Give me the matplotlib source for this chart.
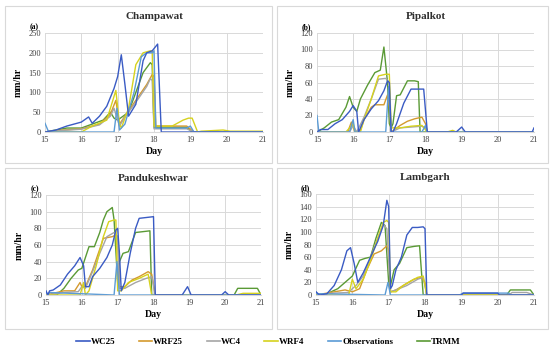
import matplotlib
matplotlib.use("Agg")
import matplotlib.pyplot as plt
from matplotlib.patches import Rectangle
from matplotlib.lines import Line2D

plt.rcParams['font.family'] = ['Liberation Serif', 'DejaVu Serif']

series_names = ["WC25", "WRF25", "WC4", "WRF4", "Observations", "TRMM"]
colors = {"WC25": "#3A5BC4", "WRF25": "#D49A2E", "WC4": "#A5A5A5",
          "WRF4": "#D6D21E", "Observations": "#5B9BD5", "TRMM": "#5A9A35"}

titles = ["Champawat", "Pipalkot", "Pandukeshwar", "Lambgarh"]
panel_tags = ["(a)", "(b)", "(c)", "(d)"]
y_max = [250, 120, 120, 160]
y_step = [50, 20, 20, 20]
x_ticks = [15, 16, 17, 18, 19, 20, 21]

# ---------- Champawat ----------
cha_wc25_x = [15, 15.3, 15.6, 15.8, 16.0, 16.2, 16.3, 16.5, 16.7, 16.9, 17.0, 17.1, 17.2, 17.3, 17.5, 17.7, 17.8, 17.95, 18.1, 18.2, 21]
cha_wc25_y = [0, 5, 15, 20, 25, 38, 22, 40, 65, 110, 140, 195, 120, 40, 70, 180, 200, 205, 222, 0, 0]
cha_wrf25_x = [15, 15.5, 16.0, 16.5, 16.8, 16.95, 17.05, 17.2, 17.5, 17.8, 17.95, 18.0, 18.05, 18.9, 19.1, 21]
cha_wrf25_y = [0, 5, 8, 20, 45, 80, 20, 40, 80, 120, 145, 140, 15, 15, 0, 0]
cha_wc4_x = [15, 15.5, 16.0, 16.5, 16.8, 16.9, 17.05, 17.2, 17.5, 17.8, 17.9, 17.95, 18.0, 18.9, 19.1, 21]
cha_wc4_y = [0, 4, 7, 18, 40, 60, 15, 38, 75, 115, 135, 130, 8, 8, 0, 0]
cha_wrf4_x = [15, 16.0, 16.3, 16.7, 16.9, 16.95, 17.05, 17.1, 17.3, 17.5, 17.7, 17.9, 17.95, 18.0, 18.5, 18.8, 18.95, 19.05, 19.2, 19.3, 19.9, 20.1, 20.4, 21]
cha_wrf4_y = [0, 0, 15, 30, 90, 105, 20, 10, 60, 170, 200, 205, 205, 15, 15, 30, 35, 35, 0, 2, 5, 2, 2, 2]
cha_obs_x = [15, 15.1, 16.9, 16.98, 17.05, 17.2, 17.45, 17.65, 17.8, 17.95, 18.0, 18.05, 18.9, 19.0, 19.1, 21]
cha_obs_y = [22, 0, 0, 60, 5, 20, 100, 190, 200, 200, 205, 10, 10, 15, 0, 0]
cha_trmm_x = [15, 15.3, 15.6, 16.0, 16.3, 16.6, 16.8, 16.9, 17.0, 17.3, 17.5, 17.7, 17.9, 17.95, 18.0, 18.9, 19.05, 21]
cha_trmm_y = [0, 5, 10, 10, 20, 30, 50, 35, 30, 50, 100, 150, 175, 170, 12, 12, 0, 0]

# ---------- Pipalkot ----------
pip_wc25_x = [15, 15.1, 15.3, 15.5, 15.7, 15.9, 16.0, 16.1, 16.15, 16.3, 16.5, 16.7, 16.85, 16.95, 17.0, 17.05, 17.1, 17.2, 17.4, 17.6, 17.8, 17.95, 18.05, 18.85, 19.0, 19.1, 20.95, 21]
pip_wc25_y = [0, 3, 3, 10, 15, 25, 32, 25, 0, 15, 28, 38, 50, 62, 60, 0, 0, 10, 35, 52, 52, 52, 0, 0, 6, 0, 0, 5]
pip_wrf25_x = [15, 15.85, 15.95, 16.05, 16.2, 16.3, 16.5, 16.6, 16.85, 16.95, 17.0, 17.05, 17.3, 17.5, 17.7, 17.9, 18.0, 18.05, 21]
pip_wrf25_y = [0, 0, 12, 0, 2, 15, 30, 33, 33, 45, 30, 0, 8, 13, 16, 18, 10, 0, 0]
pip_wc4_x = [15, 15.9, 16.0, 16.1, 16.3, 16.5, 16.7, 16.9, 17.0, 17.05, 17.3, 17.6, 17.9, 18.0, 18.05, 21]
pip_wc4_y = [0, 0, 8, 0, 18, 40, 64, 65, 60, 0, 5, 6, 7, 5, 0, 0]
pip_wrf4_x = [15, 15.8, 16.0, 16.05, 16.2, 16.3, 16.5, 16.7, 16.9, 17.0, 17.05, 17.3, 17.6, 17.9, 18.05, 18.6, 18.75, 18.85, 21]
pip_wrf4_y = [0, 0, 10, 0, 0, 15, 40, 68, 70, 70, 5, 5, 7, 8, 0, 0, 2, 0, 0]
pip_obs_x = [15, 15.05, 15.9, 16.0, 16.05, 16.9, 16.98, 17.05, 17.9, 18.0, 18.05, 21]
pip_obs_y = [20, 0, 0, 15, 0, 0, 55, 0, 0, 8, 0, 0]
pip_trmm_x = [15, 15.2, 15.4, 15.6, 15.8, 15.9, 16.0, 16.1, 16.2, 16.4, 16.6, 16.75, 16.85, 16.95, 17.0, 17.05, 17.1, 17.2, 17.3, 17.5, 17.7, 17.8, 17.85, 21]
pip_trmm_y = [0, 5, 12, 15, 30, 43, 30, 25, 40, 57, 72, 75, 103, 60, 10, 5, 10, 44, 45, 62, 62, 61, 0, 0]

# ---------- Pandukeshwar ----------
pan_wc25_x = [15, 15.05, 15.1, 15.2, 15.4, 15.6, 15.8, 15.95, 16.05, 16.1, 16.2, 16.3, 16.5, 16.7, 16.85, 16.95, 17.0, 17.05, 17.1, 17.2, 17.35, 17.5, 17.6, 17.8, 18.0, 18.05, 18.8, 18.95, 19.05, 19.9, 20.0, 20.1, 21]
pan_wc25_y = [5, 0, 5, 6, 12, 25, 35, 45, 35, 10, 10, 22, 32, 45, 60, 78, 80, 50, 5, 15, 50, 80, 92, 93, 94, 0, 0, 10, 0, 0, 4, 0, 0]
pan_wrf25_x = [15, 15.5, 15.8, 15.95, 16.0, 16.1, 16.3, 16.5, 16.6, 16.85, 16.95, 17.0, 17.05, 17.2, 17.4, 17.6, 17.85, 17.95, 18.05, 21]
pan_wrf25_y = [0, 5, 5, 15, 10, 10, 30, 55, 68, 70, 72, 70, 10, 10, 18, 22, 28, 25, 0, 0]
pan_wc4_x = [15, 15.5, 15.9, 16.0, 16.1, 16.3, 16.5, 16.7, 16.9, 17.0, 17.05, 17.2, 17.5, 17.8, 17.95, 18.05, 21]
pan_wc4_y = [0, 3, 4, 10, 8, 28, 50, 70, 75, 70, 8, 8, 15, 20, 22, 0, 0]
pan_wrf4_x = [15, 15.95, 16.05, 16.1, 16.2, 16.4, 16.6, 16.75, 16.9, 16.95, 17.0, 17.1, 17.3, 17.6, 17.85, 17.95, 20.3, 20.5, 21]
pan_wrf4_y = [0, 0, 15, 0, 5, 35, 70, 88, 90, 90, 5, 5, 15, 20, 25, 0, 0, 2, 2]
pan_obs_x = [15, 15.05, 15.1, 16.9, 16.98, 17.05, 21]
pan_obs_y = [4, 0, 3, 0, 40, 0, 0]
pan_trmm_x = [15, 15.3, 15.5, 15.7, 15.9, 16.0, 16.1, 16.2, 16.35, 16.5, 16.6, 16.7, 16.85, 16.9, 17.0, 17.05, 17.15, 17.3, 17.5, 17.7, 17.9, 17.95, 20.25, 20.35, 20.9, 21]
pan_trmm_y = [0, 0, 8, 20, 30, 32, 45, 58, 58, 75, 90, 100, 105, 90, 15, 40, 50, 52, 75, 76, 77, 0, 0, 8, 8, 0]

# ---------- Lambgarh ----------
lam_wc25_x = [15, 15.1, 15.3, 15.5, 15.7, 15.85, 15.95, 16.05, 16.15, 16.3, 16.5, 16.7, 16.85, 16.95, 17.0, 17.05, 17.1, 17.2, 17.35, 17.5, 17.65, 17.8, 17.95, 18.0, 18.05, 19.0, 19.05, 20.0, 20.05, 21]
lam_wc25_y = [5, 0, 2, 15, 40, 70, 75, 50, 20, 35, 60, 85, 110, 150, 140, 10, 15, 40, 60, 95, 107, 107, 108, 105, 0, 0, 3, 3, 0, 0]
lam_wrf25_x = [15, 15.5, 15.8, 16.0, 16.2, 16.4, 16.6, 16.8, 16.95, 17.0, 17.05, 17.2, 17.4, 17.7, 17.9, 18.0, 18.05, 21]
lam_wrf25_y = [0, 5, 8, 5, 10, 40, 65, 70, 78, 70, 5, 8, 15, 25, 28, 20, 0, 0]
lam_wc4_x = [15, 15.5, 15.9, 16.0, 16.1, 16.3, 16.5, 16.7, 16.85, 16.95, 17.05, 17.2, 17.5, 17.8, 17.95, 18.05, 20.3, 20.4, 20.8, 21]
lam_wc4_y = [0, 3, 4, 10, 15, 30, 60, 90, 112, 105, 5, 8, 15, 25, 28, 0, 0, 4, 4, 0]
lam_wrf4_x = [15, 15.9, 16.0, 16.1, 16.3, 16.5, 16.7, 16.85, 16.95, 17.0, 17.05, 17.2, 17.4, 17.6, 17.8, 17.95, 18.05, 21]
lam_wrf4_y = [0, 0, 25, 10, 25, 55, 90, 115, 118, 115, 5, 5, 15, 22, 28, 30, 0, 0]
lam_obs_x = [15, 15.05, 15.1, 16.9, 16.98, 17.05, 18.95, 19.05, 20.3, 20.35, 21]
lam_obs_y = [5, 0, 2, 0, 20, 0, 0, 3, 3, 0, 0]
lam_trmm_x = [15, 15.3, 15.6, 15.8, 16.0, 16.2, 16.35, 16.5, 16.65, 16.8, 16.9, 17.0, 17.05, 17.15, 17.3, 17.5, 17.7, 17.85, 17.95, 20.25, 20.35, 20.9, 21]
lam_trmm_y = [0, 2, 10, 20, 30, 55, 58, 60, 90, 115, 110, 20, 15, 40, 50, 75, 77, 78, 0, 0, 8, 8, 0]

panels = [
    {"WC25": (cha_wc25_x, cha_wc25_y), "WRF25": (cha_wrf25_x, cha_wrf25_y), "WC4": (cha_wc4_x, cha_wc4_y),
     "WRF4": (cha_wrf4_x, cha_wrf4_y), "Observations": (cha_obs_x, cha_obs_y), "TRMM": (cha_trmm_x, cha_trmm_y)},
    {"WC25": (pip_wc25_x, pip_wc25_y), "WRF25": (pip_wrf25_x, pip_wrf25_y), "WC4": (pip_wc4_x, pip_wc4_y),
     "WRF4": (pip_wrf4_x, pip_wrf4_y), "Observations": (pip_obs_x, pip_obs_y), "TRMM": (pip_trmm_x, pip_trmm_y)},
    {"WC25": (pan_wc25_x, pan_wc25_y), "WRF25": (pan_wrf25_x, pan_wrf25_y), "WC4": (pan_wc4_x, pan_wc4_y),
     "WRF4": (pan_wrf4_x, pan_wrf4_y), "Observations": (pan_obs_x, pan_obs_y), "TRMM": (pan_trmm_x, pan_trmm_y)},
    {"WC25": (lam_wc25_x, lam_wc25_y), "WRF25": (lam_wrf25_x, lam_wrf25_y), "WC4": (lam_wc4_x, lam_wc4_y),
     "WRF4": (lam_wrf4_x, lam_wrf4_y), "Observations": (lam_obs_x, lam_obs_y), "TRMM": (lam_trmm_x, lam_trmm_y)},
]

W, H = 550, 349
fig = plt.figure(figsize=(W / 100, H / 100), dpi=100)
fig.patch.set_facecolor("white")

def fx(px):
    return px / W

def fy(py):
    return 1 - py / H

# panel boxes (pixel coords: x0, y0, x1, y1)
boxes = [(5, 6, 272, 163), (277, 6, 548, 163), (5, 168, 272, 329), (277, 168, 548, 329)]
for (x0, y0, x1, y1) in boxes:
    fig.add_artist(Rectangle((fx(x0), fy(y1)), fx(x1 - x0), (y1 - y0) / H,
                             transform=fig.transFigure, fill=False,
                             edgecolor="#D9D9D9", linewidth=0.8))

# axes rectangles in pixels (left, top, right, bottom)
axes_px = [(45, 33, 263, 132), (317, 33, 534, 132), (46, 195, 261, 295), (316, 194, 534, 295)]
draw_order = ["TRMM", "WRF25", "WC4", "WRF4", "Observations", "WC25"]

for i, (l, t, r, b) in enumerate(axes_px):
    ax = fig.add_axes([fx(l), fy(b), fx(r - l), (b - t) / H])
    data = panels[i]
    for name in draw_order:
        xs, ys = data[name]
        ax.plot(xs, ys, color=colors[name], linewidth=1.0, solid_joinstyle="round")
    ax.set_xlim(15, 21)
    ax.set_ylim(0, y_max[i])
    ax.set_xticks(x_ticks)
    ax.set_yticks(range(0, y_max[i] + 1, y_step[i]))
    ax.tick_params(length=0, labelsize=6, pad=3, colors="#404040")
    ax.grid(True, color="#D9D9D9", linewidth=0.7)
    ax.set_axisbelow(True)
    for s in ["top", "right", "left"]:
        ax.spines[s].set_visible(False)
    ax.spines["bottom"].set_color("#D9D9D9")
    ax.set_ylabel("mm/hr", fontsize=7, fontweight="bold", labelpad=4)
    ax.set_xlabel("Day", fontsize=7, fontweight="bold", labelpad=2)
    ax.set_title(titles[i], fontsize=8, fontweight="bold", pad=10, color="#303030")
    ax.text(-0.05, 1.02, panel_tags[i], transform=ax.transAxes, fontsize=5.5,
            fontweight="bold", ha="center", va="bottom")

handles = [Line2D([0], [0], color=colors[n], linewidth=1.2) for n in series_names]
fig.legend(handles, series_names, loc="center", bbox_to_anchor=(0.488, fy(342)),
           ncol=6, frameon=False, handlelength=1.5, handletextpad=0.1,
           columnspacing=2.6, prop={"weight": "bold", "size": 6.5})

fig.savefig("out.png", dpi=100)
